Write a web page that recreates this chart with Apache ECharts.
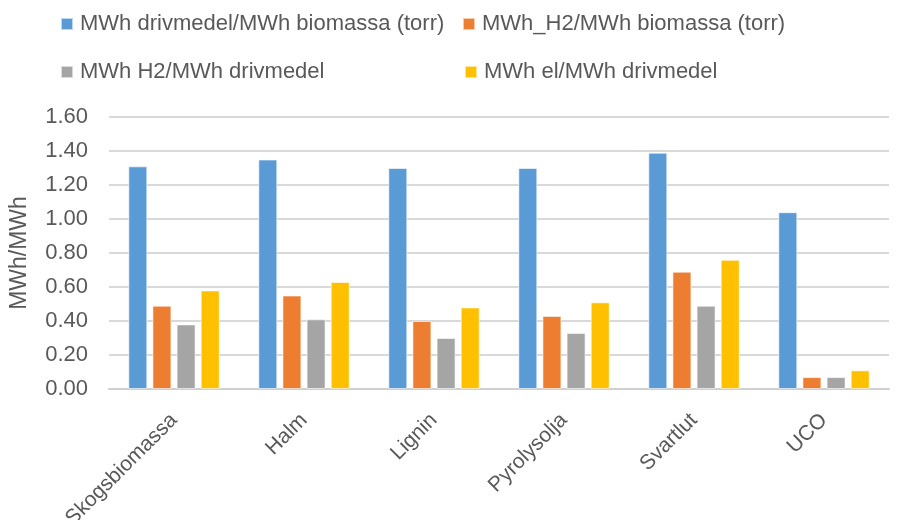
<!DOCTYPE html>
<html><head><meta charset="utf-8">
<script src="https://cdn.jsdelivr.net/npm/echarts@6/dist/echarts.min.js"></script>
<style>html,body{margin:0;padding:0;background:#fff}#c{width:898px;height:520px}</style>
</head><body><div id="c"></div>
<script>
const categories = ['Skogsbiomassa','Halm','Lignin','Pyrolysolja','Svartlut','UCO'];
const seriesNames = ['MWh drivmedel/MWh biomassa (torr)','MWh_H2/MWh biomassa (torr)','MWh H2/MWh drivmedel','MWh el/MWh drivmedel'];
const drivmedelPerBiomassa = [1.31, 1.35, 1.30, 1.30, 1.39, 1.04];
const h2PerBiomassa = [0.49, 0.55, 0.40, 0.43, 0.69, 0.07];
const h2PerDrivmedel = [0.38, 0.41, 0.30, 0.33, 0.49, 0.07];
const elPerDrivmedel = [0.58, 0.63, 0.48, 0.51, 0.76, 0.11];
const yTicks = ['0.00','0.20','0.40','0.60','0.80','1.00','1.20','1.40','1.60'];

const colors = ['#5B9BD5','#ED7D31','#A5A5A5','#FFC000'];
const values = [drivmedelPerBiomassa, h2PerBiomassa, h2PerDrivmedel, elPerDrivmedel];
const font = "'Liberation Sans', sans-serif";
const legendPos = [[55,8],[457,8],[55,56],[459,56]];
const chart = echarts.init(document.getElementById('c'));
chart.setOption({
  animation:false,
  textStyle:{fontFamily:font},
  legend: seriesNames.map((n,i)=>({data:[n], left:legendPos[i][0], top:legendPos[i][1], itemWidth:12, itemHeight:12, icon:'rect', itemGap:7,
    textStyle:{fontSize:22, color:'#595959', fontFamily:font, padding:[0,0,0,2]}})),
  grid:{left:109, right:9, top:117, bottom:131, containLabel:false, outerBoundsMode:'none'},
  xAxis:{type:'category', data:categories,
    axisLine:{lineStyle:{color:'#D0D0D0', width:2}}, axisTick:{show:false},
    axisLabel:{rotate:45, fontSize:21, color:'#595959', margin:28, padding:[8,0,0,0], interval:0, fontFamily:font}},
  yAxis:{type:'value', min:0, max:1.6, interval:0.2, name:'MWh/MWh', nameLocation:'middle', nameGap:78,
    nameTextStyle:{fontSize:23, color:'#595959', fontFamily:font},
    axisLine:{show:false}, axisTick:{show:false},
    axisLabel:{fontSize:22, color:'#595959', margin:21, fontFamily:font, formatter:(v)=>yTicks[Math.round(v/0.2)]},
    splitLine:{lineStyle:{color:'#D9D9D9', width:2}}},
  series: seriesNames.map((n,i)=>({name:n, type:'bar', data:values[i], barWidth:19, barGap:'27%',
    itemStyle:{color:colors[i], borderColor:'rgba(255,255,255,0.6)', borderWidth:1}}))
});
</script></body></html>
